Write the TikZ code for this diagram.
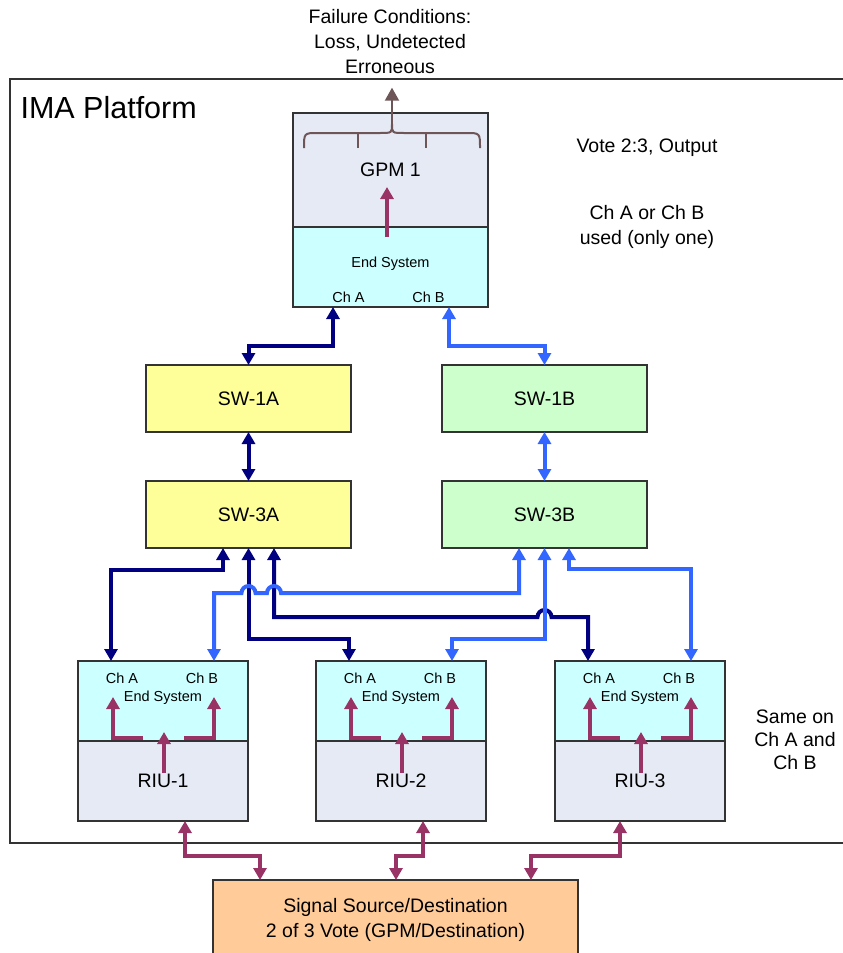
\documentclass[tikz,border=0pt]{standalone}
\usepackage{fontspec}
\setmainfont{Liberation Sans}
\usepackage{tikz}
\usetikzlibrary{arrows.meta, positioning, calc}
\definecolor{chanavy}{RGB}{0,0,128}
\definecolor{chbblue}{RGB}{51,102,255}
\definecolor{sigpurple}{RGB}{153,51,102}
\definecolor{failgrey}{RGB}{110,86,88}
\definecolor{modgrey}{RGB}{230,234,245}
\definecolor{escyan}{RGB}{204,255,255}
\definecolor{swyellow}{RGB}{255,255,153}
\definecolor{swgreen}{RGB}{204,255,204}
\definecolor{srcorange}{RGB}{255,204,153}
\definecolor{edgegrey}{RGB}{51,51,51}
\newcommand{\bigtxt}{\fontsize{19.5}{25}\selectfont}
\newcommand{\tighttxt}{\fontsize{19.5}{23}\selectfont}
\newcommand{\smalltxt}{\fontsize{14.5}{17}\selectfont}
\newcommand{\titletxt}{\fontsize{30.5}{36}\selectfont}

\begin{document}
\begin{tikzpicture}[
    x=1pt, y=-1pt,
    box/.style={rectangle, draw=edgegrey, line width=1.5pt, inner sep=0pt, outer sep=0pt, align=center, font=\bigtxt},
    module/.style={box, fill=modgrey, minimum width=170pt, minimum height=80pt},
    endsys/.style={box, fill=escyan, minimum width=170pt, minimum height=80pt},
    switch/.style={box, minimum width=205pt, minimum height=67pt},
    swa/.style={switch, fill=swyellow},
    swb/.style={switch, fill=swgreen},
    chA/.style={draw=chanavy, line width=4pt, {Triangle[length=12pt,width=13pt]}-{Triangle[length=12pt,width=13pt]}},
    chB/.style={chA, draw=chbblue},
    sig/.style={chA, draw=sigpurple},
    flow/.style={draw=sigpurple, line width=4pt, -{Triangle[length=12pt,width=13pt]}},
    note/.style={align=center, font=\bigtxt},
    port/.style={font=\smalltxt, inner sep=0pt}
]
\path[use as bounding box] (0,0) rectangle (843,953);
\clip (0,0) rectangle (843,953);

% Platform frame
\draw[edgegrey, line width=1.5pt] (850,79) -- (10,79) -- (10,843) -- (850,843);
\node[anchor=west, font=\titletxt] (ima) at (17,108) {IMA Platform};

% GPM
\node[module, minimum width=195pt, minimum height=114pt] (gpm) at (390.5,170) {GPM 1};
\node[endsys, minimum width=195pt, below=0pt of gpm] (gpmes) {};
\node[port] (gpmeslbl) at ($(gpmes.center)+(0,-3)$) {End System};
\node[port] (gpmchA) at ($(gpmes.south)+(-42,-10)$) {Ch A};
\node[port] (gpmchB) at ($(gpmes.south)+(38,-10)$) {Ch B};
\coordinate (gpma) at ($(gpmes.south west)+(40,0)$);
\coordinate (gpmb) at ($(gpmes.south east)+(-39,0)$);
\draw[flow] ($(gpm.south)+(-3.5,10)$) -- ($(gpm.south)+(-3.5,-40)$);

% Failure conditions
\draw[failgrey, line width=2pt] (304,148) .. controls (304,133) .. (318,133) -- (380,133)
    .. controls (392,133) .. (392,124) .. controls (392,133) .. (404,133) -- (466,133)
    .. controls (480,133) .. (480,148);
\draw[failgrey, line width=2pt] (358,133) -- (358,148) (426,133) -- (426,148);
\coordinate (cusp) at (392,124);
\node[note] (fcond) at (390,42) {Failure Conditions:\\Loss, Undetected\\Erroneous};
\draw[failgrey, line width=2pt, -{Triangle[length=13pt,width=14pt]}] (cusp) -- ($(fcond.south)+(2,10)$);

% Notes
\node[note] (vote) at (647,148) {Vote 2:3, Output};
\node[note] (onech) at (647,227) {Ch A or Ch B\\used (only one)};
\node[note, font=\tighttxt] (same) at (795,740) {Same on\\Ch A and\\Ch B};

% Switches
\node[swa] (sw1a) at (248.5,398.5) {SW-1A};
\node[swb, right=91pt of sw1a] (sw1b) {SW-1B};
\node[swa, below=49pt of sw1a] (sw3a) {SW-3A};
\node[swb, below=49pt of sw1b] (sw3b) {SW-3B};

% RIUs
\node[endsys] (riu1es) at (163,701) {};
\node[module, below=0pt of riu1es] (riu1) {RIU-1};
\node[endsys, right=68pt of riu1es] (riu2es) {};
\node[module, below=0pt of riu2es] (riu2) {RIU-2};
\node[endsys, right=69pt of riu2es] (riu3es) {};
\node[module, below=0pt of riu3es] (riu3) {RIU-3};

\node[port] (riu1lbl) at ($(riu1es.center)+(0,-3)$) {End System};
\node[port] (riu1chA) at ($(riu1es.north west)+(44,17)$) {Ch A};
\node[port] (riu1chB) at ($(riu1es.north west)+(124,17)$) {Ch B};
\node[port] (riu2lbl) at ($(riu2es.center)+(0,-3)$) {End System};
\node[port] (riu2chA) at ($(riu2es.north west)+(44,17)$) {Ch A};
\node[port] (riu2chB) at ($(riu2es.north west)+(124,17)$) {Ch B};
\node[port] (riu3lbl) at ($(riu3es.center)+(0,-3)$) {End System};
\node[port] (riu3chA) at ($(riu3es.north west)+(44,17)$) {Ch A};
\node[port] (riu3chB) at ($(riu3es.north west)+(124,17)$) {Ch B};

\coordinate (riu1a) at ($(riu1es.north west)+(33,0)$);
\coordinate (riu1b) at ($(riu1es.north west)+(136,0)$);
\coordinate (riu2a) at ($(riu2es.north west)+(33,0)$);
\coordinate (riu2b) at ($(riu2es.north west)+(136,0)$);
\coordinate (riu3a) at ($(riu3es.north west)+(33,0)$);
\coordinate (riu3b) at ($(riu3es.north west)+(136,0)$);

% Internal flows
\draw[flow] ($(riu1es.south)+(1,32)$) -- ($(riu1es.south)+(1,-9)$);
\draw[flow] ($(riu1es.south)+(-20,-3)$) -| ($(riu1es.south)+(-50,-44)$);
\draw[flow] ($(riu1es.south)+(21,-3)$) -| ($(riu1es.south)+(51,-44)$);
\draw[flow] ($(riu2es.south)+(1,32)$) -- ($(riu2es.south)+(1,-9)$);
\draw[flow] ($(riu2es.south)+(-20,-3)$) -| ($(riu2es.south)+(-50,-44)$);
\draw[flow] ($(riu2es.south)+(21,-3)$) -| ($(riu2es.south)+(51,-44)$);
\draw[flow] ($(riu3es.south)+(1,32)$) -- ($(riu3es.south)+(1,-9)$);
\draw[flow] ($(riu3es.south)+(-20,-3)$) -| ($(riu3es.south)+(-50,-44)$);
\draw[flow] ($(riu3es.south)+(21,-3)$) -| ($(riu3es.south)+(51,-44)$);

% Channel A network
\draw[chA] (gpma) -- ++(0,39) -| (sw1a.north);
\draw[chA] (sw1a) -- (sw3a);
\draw[chA] (riu1a) |- ($(sw3a.south west)+(77,22)$) -- ($(sw3a.south west)+(77,0)$);
\draw[chA] (sw3a.south) |- ($(riu2a)+(0,-22)$) -- (riu2a);
\draw[chA] ($(sw3a.south west)+(128,0)$) |- (537.5,617)
    arc[start angle=180, end angle=360, radius=7] -| (riu3a);

% Channel B network
\draw[chB] (gpmb) -- ++(0,39) -| (sw1b.north);
\draw[chB] (sw1b) -- (sw3b);
\draw[chB] (riu1b) |- (241.5,593) arc[start angle=180, end angle=360, radius=7]
    -- (267,593) arc[start angle=180, end angle=360, radius=7]
    -| ($(sw3b.south west)+(77,0)$);
\draw[chB] (sw3b.south) |- ($(riu2b)+(0,-22)$) -- (riu2b);
\draw[chB] ($(sw3b.south west)+(127,0)$) |- ($(riu3b)+(0,-92)$) -- (riu3b);

% Signal source
\node[box, fill=srcorange, minimum width=365pt, minimum height=80pt] (sigsrc) at (395.5,920) {Signal Source/Destination\\2 of 3 Vote (GPM/Destination)};
\draw[sig] ($(riu1.south west)+(107,0)$) |- ($(sigsrc.north west)+(47,-24)$) -- ($(sigsrc.north west)+(47,0)$);
\draw[sig] ($(riu2.south west)+(107,0)$) |- ($(sigsrc.north west)+(183,-24)$) -- ($(sigsrc.north west)+(183,0)$);
\draw[sig] ($(riu3.south west)+(65,0)$) |- ($(sigsrc.north west)+(318,-24)$) -- ($(sigsrc.north west)+(318,0)$);

\end{tikzpicture}
\end{document}
